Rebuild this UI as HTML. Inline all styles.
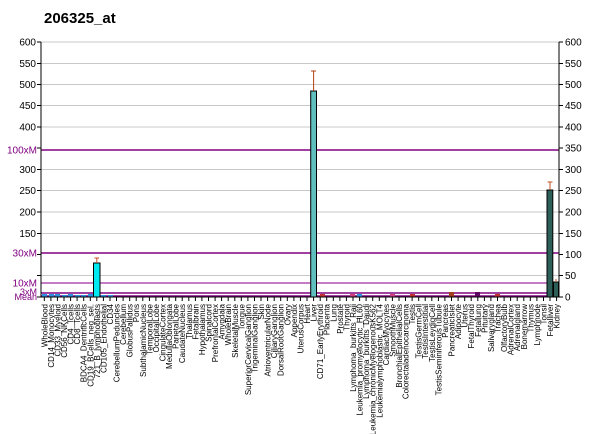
<!DOCTYPE html>
<html><head><meta charset="utf-8"><style>
html,body{margin:0;padding:0;background:#fff;}
svg{display:block;font-family:"Liberation Sans",Arial,sans-serif;}
</style></head><body>
<svg width="600" height="434" viewBox="0 0 600 434" xmlns="http://www.w3.org/2000/svg">
<text x="44" y="23" font-size="15" font-weight="bold" fill="#000">206325_at</text>
<g stroke="#c8c8c8" stroke-width="1">
<line x1="41" x2="559" y1="42" y2="42"/><line x1="41" x2="559" y1="63.5" y2="63.5"/><line x1="41" x2="559" y1="84.5" y2="84.5"/><line x1="41" x2="559" y1="105.5" y2="105.5"/><line x1="41" x2="559" y1="127" y2="127"/><line x1="41" x2="559" y1="169.5" y2="169.5"/><line x1="41" x2="559" y1="190.5" y2="190.5"/><line x1="41" x2="559" y1="212" y2="212"/><line x1="41" x2="559" y1="233.5" y2="233.5"/><line x1="41" x2="559" y1="275.5" y2="275.5"/>
</g>
<g stroke-width="1.5">
<line x1="41" x2="559" y1="150" y2="150" stroke="#800080"/>
<line x1="41" x2="559" y1="253" y2="253" stroke="#800080"/>
<line x1="41" x2="559" y1="283" y2="283" stroke="#b050b0"/>
<line x1="41" x2="559" y1="293" y2="293" stroke="#800080"/>
<line x1="41" x2="559" y1="296" y2="296" stroke="#800080"/>
</g>
<!-- small bars -->
<g fill="#3090e0">
<rect x="42" y="294" width="5" height="3"/><rect x="49" y="294" width="5" height="3"/><rect x="55" y="294" width="5" height="3"/><rect x="62" y="295" width="5" height="2"/><rect x="68" y="294" width="5" height="3"/><rect x="75" y="295" width="5" height="2"/><rect x="81" y="295" width="5" height="2"/><rect x="88" y="294" width="5" height="3"/><rect x="101" y="295" width="5" height="2"/><rect x="108" y="295" width="5" height="2"/>
<rect x="320" y="294" width="5" height="3" fill="#c03030"/><rect x="350" y="294" width="5" height="3" fill="#d04080"/><rect x="357" y="294" width="5" height="3"/><rect x="390" y="294" width="5" height="3" fill="#d04080"/><rect x="410" y="294" width="5" height="3" fill="#c03030"/><rect x="449" y="292" width="5" height="5" fill="#a04020"/><rect x="475" y="292" width="5" height="5" fill="#600060"/><rect x="495" y="294" width="5" height="3" fill="#c03030"/>
</g>
<!-- main bars -->
<rect x="93.5" y="263" width="6.5" height="34" fill="#00e8f0" stroke="#000" stroke-width="1"/>
<line x1="96.8" x2="96.8" y1="263" y2="258" stroke="#c05020"/><line x1="94.5" x2="99" y1="258" y2="258" stroke="#c05020"/>
<rect x="310.7" y="91" width="5.8" height="206" fill="#5fbfbf" stroke="#000" stroke-width="1"/>
<line x1="313.6" x2="313.6" y1="91" y2="71" stroke="#b04010"/><line x1="311" x2="316" y1="71" y2="71" stroke="#b04010"/>
<rect x="547" y="190" width="5.8" height="107" fill="#2e5e58" stroke="#000" stroke-width="1"/>
<line x1="550" x2="550" y1="190" y2="182" stroke="#c05020"/><line x1="547.5" x2="552.5" y1="182" y2="182" stroke="#c05020"/>
<rect x="553.5" y="282" width="5" height="15" fill="#2e5e58" stroke="#000" stroke-width="1"/>
<line x1="556" x2="556" y1="282" y2="279" stroke="#c05020"/>
<!-- axes -->
<g stroke="#000" stroke-width="1">
<line x1="41" x2="41" y1="42" y2="297"/><line x1="559" x2="559" y1="42" y2="297"/><line x1="41" x2="559" y1="297" y2="297"/>
<line x1="37" x2="41" y1="42" y2="42"/><line x1="37" x2="41" y1="63.5" y2="63.5"/><line x1="37" x2="41" y1="84.5" y2="84.5"/><line x1="37" x2="41" y1="105.5" y2="105.5"/><line x1="37" x2="41" y1="127" y2="127"/><line x1="37" x2="41" y1="148" y2="148"/><line x1="37" x2="41" y1="169.5" y2="169.5"/><line x1="37" x2="41" y1="190.5" y2="190.5"/><line x1="37" x2="41" y1="212" y2="212"/><line x1="37" x2="41" y1="233.5" y2="233.5"/><line x1="37" x2="41" y1="254.5" y2="254.5"/><line x1="37" x2="41" y1="275.5" y2="275.5"/><line x1="37" x2="41" y1="297" y2="297"/>
<line x1="559" x2="563" y1="42" y2="42"/><line x1="559" x2="563" y1="63.5" y2="63.5"/><line x1="559" x2="563" y1="84.5" y2="84.5"/><line x1="559" x2="563" y1="105.5" y2="105.5"/><line x1="559" x2="563" y1="127" y2="127"/><line x1="559" x2="563" y1="148" y2="148"/><line x1="559" x2="563" y1="169.5" y2="169.5"/><line x1="559" x2="563" y1="190.5" y2="190.5"/><line x1="559" x2="563" y1="212" y2="212"/><line x1="559" x2="563" y1="233.5" y2="233.5"/><line x1="559" x2="563" y1="254.5" y2="254.5"/><line x1="559" x2="563" y1="275.5" y2="275.5"/><line x1="559" x2="563" y1="297" y2="297"/>
</g>
<g font-size="10" fill="#000" text-anchor="end">
<text x="36" y="45.5">600</text><text x="36" y="67">550</text><text x="36" y="88">500</text><text x="36" y="109">450</text><text x="36" y="130.5">400</text><text x="36" y="173">300</text><text x="36" y="194">250</text><text x="36" y="215.5">200</text><text x="36" y="237">150</text>
</g>
<g font-size="10" fill="#800080" text-anchor="end">
<text x="37" y="153.5">100xM</text><text x="37" y="256.5">30xM</text><text x="37" y="286.5">10xM</text><text x="37" y="295" font-size="9">3xM</text><text x="37" y="300" font-size="9">Mean</text>
</g>
<g font-size="10" fill="#000" text-anchor="start">
<text x="565" y="45.5">600</text><text x="565" y="67">550</text><text x="565" y="88">500</text><text x="565" y="109">450</text><text x="565" y="130.5">400</text><text x="565" y="151.5">350</text><text x="565" y="173">300</text><text x="565" y="194">250</text><text x="565" y="215.5">200</text><text x="565" y="237">150</text><text x="565" y="258">100</text><text x="565" y="279">50</text><text x="565" y="300.5">0</text>
</g>
<g stroke="#000" stroke-width="1">
<line x1="44.3" x2="44.3" y1="297" y2="301"/><line x1="50.9" x2="50.9" y1="297" y2="301"/><line x1="57.4" x2="57.4" y1="297" y2="301"/><line x1="64" x2="64" y1="297" y2="301"/><line x1="70.6" x2="70.6" y1="297" y2="301"/><line x1="77.1" x2="77.1" y1="297" y2="301"/><line x1="83.7" x2="83.7" y1="297" y2="301"/><line x1="90.3" x2="90.3" y1="297" y2="301"/><line x1="96.8" x2="96.8" y1="297" y2="301"/><line x1="103.4" x2="103.4" y1="297" y2="301"/><line x1="110" x2="110" y1="297" y2="301"/><line x1="116.5" x2="116.5" y1="297" y2="301"/><line x1="123.1" x2="123.1" y1="297" y2="301"/><line x1="129.7" x2="129.7" y1="297" y2="301"/><line x1="136.2" x2="136.2" y1="297" y2="301"/><line x1="142.8" x2="142.8" y1="297" y2="301"/><line x1="149.4" x2="149.4" y1="297" y2="301"/><line x1="155.9" x2="155.9" y1="297" y2="301"/><line x1="162.5" x2="162.5" y1="297" y2="301"/><line x1="169.1" x2="169.1" y1="297" y2="301"/><line x1="175.7" x2="175.7" y1="297" y2="301"/><line x1="182.2" x2="182.2" y1="297" y2="301"/><line x1="188.8" x2="188.8" y1="297" y2="301"/><line x1="195.4" x2="195.4" y1="297" y2="301"/><line x1="201.9" x2="201.9" y1="297" y2="301"/><line x1="208.5" x2="208.5" y1="297" y2="301"/><line x1="215.1" x2="215.1" y1="297" y2="301"/><line x1="221.6" x2="221.6" y1="297" y2="301"/><line x1="228.2" x2="228.2" y1="297" y2="301"/><line x1="234.8" x2="234.8" y1="297" y2="301"/><line x1="241.3" x2="241.3" y1="297" y2="301"/><line x1="247.9" x2="247.9" y1="297" y2="301"/><line x1="254.5" x2="254.5" y1="297" y2="301"/><line x1="261" x2="261" y1="297" y2="301"/><line x1="267.6" x2="267.6" y1="297" y2="301"/><line x1="274.2" x2="274.2" y1="297" y2="301"/><line x1="280.7" x2="280.7" y1="297" y2="301"/><line x1="287.3" x2="287.3" y1="297" y2="301"/><line x1="293.9" x2="293.9" y1="297" y2="301"/><line x1="300.4" x2="300.4" y1="297" y2="301"/><line x1="307" x2="307" y1="297" y2="301"/><line x1="313.6" x2="313.6" y1="297" y2="301"/><line x1="320.2" x2="320.2" y1="297" y2="301"/><line x1="326.7" x2="326.7" y1="297" y2="301"/><line x1="333.3" x2="333.3" y1="297" y2="301"/><line x1="339.9" x2="339.9" y1="297" y2="301"/><line x1="346.4" x2="346.4" y1="297" y2="301"/><line x1="353" x2="353" y1="297" y2="301"/><line x1="359.6" x2="359.6" y1="297" y2="301"/><line x1="366.1" x2="366.1" y1="297" y2="301"/><line x1="372.7" x2="372.7" y1="297" y2="301"/><line x1="379.3" x2="379.3" y1="297" y2="301"/><line x1="385.8" x2="385.8" y1="297" y2="301"/><line x1="392.4" x2="392.4" y1="297" y2="301"/><line x1="399" x2="399" y1="297" y2="301"/><line x1="405.5" x2="405.5" y1="297" y2="301"/><line x1="412.1" x2="412.1" y1="297" y2="301"/><line x1="418.7" x2="418.7" y1="297" y2="301"/><line x1="425.2" x2="425.2" y1="297" y2="301"/><line x1="431.8" x2="431.8" y1="297" y2="301"/><line x1="438.4" x2="438.4" y1="297" y2="301"/><line x1="444.9" x2="444.9" y1="297" y2="301"/><line x1="451.5" x2="451.5" y1="297" y2="301"/><line x1="458.1" x2="458.1" y1="297" y2="301"/><line x1="464.7" x2="464.7" y1="297" y2="301"/><line x1="471.2" x2="471.2" y1="297" y2="301"/><line x1="477.8" x2="477.8" y1="297" y2="301"/><line x1="484.4" x2="484.4" y1="297" y2="301"/><line x1="490.9" x2="490.9" y1="297" y2="301"/><line x1="497.5" x2="497.5" y1="297" y2="301"/><line x1="504.1" x2="504.1" y1="297" y2="301"/><line x1="510.6" x2="510.6" y1="297" y2="301"/><line x1="517.2" x2="517.2" y1="297" y2="301"/><line x1="523.8" x2="523.8" y1="297" y2="301"/><line x1="530.3" x2="530.3" y1="297" y2="301"/><line x1="536.9" x2="536.9" y1="297" y2="301"/><line x1="543.5" x2="543.5" y1="297" y2="301"/><line x1="550" x2="550" y1="297" y2="301"/><line x1="556.6" x2="556.6" y1="297" y2="301"/>
</g>
<g font-size="8" fill="#000" text-anchor="end">
<text transform="translate(47.3,304) rotate(-90)">WholeBlood</text>
<text transform="translate(53.9,304) rotate(-90)">CD14_Monocytes</text>
<text transform="translate(60.4,304) rotate(-90)">CD33_Myeloid</text>
<text transform="translate(67,304) rotate(-90)">CD56_NKCells</text>
<text transform="translate(73.6,304) rotate(-90)">CD4_Tcells</text>
<text transform="translate(80.1,304) rotate(-90)">CD8_Tcells</text>
<text transform="translate(86.7,304) rotate(-90)">BDCA4_DentriticCells</text>
<text transform="translate(93.3,304) rotate(-90)">CD19_BCells_neg_sel.</text>
<text transform="translate(99.8,304) rotate(-90)">721_B_lymphoblasts</text>
<text transform="translate(106.4,304) rotate(-90)">CD105_Endothelial</text>
<text transform="translate(113,304) rotate(-90)">CD34</text>
<text transform="translate(119.5,304) rotate(-90)">CerebellumPeduncles</text>
<text transform="translate(126.1,304) rotate(-90)">Cerebellum</text>
<text transform="translate(132.7,304) rotate(-90)">GlobusPallidus</text>
<text transform="translate(139.2,304) rotate(-90)">Pons</text>
<text transform="translate(145.8,304) rotate(-90)">SubthalamicNucleus</text>
<text transform="translate(152.4,304) rotate(-90)">TemporalLobe</text>
<text transform="translate(158.9,304) rotate(-90)">OccipitalLobe</text>
<text transform="translate(165.5,304) rotate(-90)">CingulateCortex</text>
<text transform="translate(172.1,304) rotate(-90)">MedullaOblongata</text>
<text transform="translate(178.7,304) rotate(-90)">ParietalLobe</text>
<text transform="translate(185.2,304) rotate(-90)">CaudateNucleus</text>
<text transform="translate(191.8,304) rotate(-90)">Thalamus</text>
<text transform="translate(198.4,304) rotate(-90)">Fetalbrain</text>
<text transform="translate(204.9,304) rotate(-90)">Hypothalamus</text>
<text transform="translate(211.5,304) rotate(-90)">Spinalcord</text>
<text transform="translate(218.1,304) rotate(-90)">PrefrontalCortex</text>
<text transform="translate(224.6,304) rotate(-90)">Amygdala</text>
<text transform="translate(231.2,304) rotate(-90)">WholeBrain</text>
<text transform="translate(237.8,304) rotate(-90)">SkeletalMuscle</text>
<text transform="translate(244.3,304) rotate(-90)">Tongue</text>
<text transform="translate(250.9,304) rotate(-90)">SuperiorCervicalGanglion</text>
<text transform="translate(257.5,304) rotate(-90)">TrigeminalGanglion</text>
<text transform="translate(264,304) rotate(-90)">Skin</text>
<text transform="translate(270.6,304) rotate(-90)">AtrioventricularNode</text>
<text transform="translate(277.2,304) rotate(-90)">CiliaryGanglion</text>
<text transform="translate(283.7,304) rotate(-90)">DorsalRootGanglion</text>
<text transform="translate(290.3,304) rotate(-90)">Ovary</text>
<text transform="translate(296.9,304) rotate(-90)">Appendix</text>
<text transform="translate(303.4,304) rotate(-90)">UterusCorpus</text>
<text transform="translate(310,304) rotate(-90)">Heart</text>
<text transform="translate(316.6,304) rotate(-90)">Liver</text>
<text transform="translate(323.2,304) rotate(-90)">CD71_EarlyErythroid</text>
<text transform="translate(329.7,304) rotate(-90)">Placenta</text>
<text transform="translate(336.3,304) rotate(-90)">Lung</text>
<text transform="translate(342.9,304) rotate(-90)">Prostate</text>
<text transform="translate(349.4,304) rotate(-90)">Thyroid</text>
<text transform="translate(356,304) rotate(-90)">Lymphoma_burkitts_Raji</text>
<text transform="translate(362.6,304) rotate(-90)">Leukemia_promyelocytic_HL60</text>
<text transform="translate(369.1,304) rotate(-90)">Lymphoma_burkitts_Daudi</text>
<text transform="translate(375.7,304) rotate(-90)">Leukemia_chronicMyelogenousK562</text>
<text transform="translate(382.3,304) rotate(-90)">Leukemialymphoblastic_MOLT4</text>
<text transform="translate(388.8,304) rotate(-90)">CardiacMyocytes</text>
<text transform="translate(395.4,304) rotate(-90)">SmoothMuscle</text>
<text transform="translate(402,304) rotate(-90)">BronchialEpithelialCells</text>
<text transform="translate(408.5,304) rotate(-90)">Colorectaladenocarcinoma</text>
<text transform="translate(415.1,304) rotate(-90)">Testis</text>
<text transform="translate(421.7,304) rotate(-90)">TestisGermCell</text>
<text transform="translate(428.2,304) rotate(-90)">TestisInterstitial</text>
<text transform="translate(434.8,304) rotate(-90)">TestisLeydigCell</text>
<text transform="translate(441.4,304) rotate(-90)">TestisSeminiferousTubule</text>
<text transform="translate(447.9,304) rotate(-90)">Pancreas</text>
<text transform="translate(454.5,304) rotate(-90)">PancreaticIslet</text>
<text transform="translate(461.1,304) rotate(-90)">Adipocyte</text>
<text transform="translate(467.7,304) rotate(-90)">Uterus</text>
<text transform="translate(474.2,304) rotate(-90)">FetalThyroid</text>
<text transform="translate(480.8,304) rotate(-90)">Fetallung</text>
<text transform="translate(487.4,304) rotate(-90)">Pituitary</text>
<text transform="translate(493.9,304) rotate(-90)">Salivarygland</text>
<text transform="translate(500.5,304) rotate(-90)">Trachea</text>
<text transform="translate(507.1,304) rotate(-90)">OlfactoryBulb</text>
<text transform="translate(513.6,304) rotate(-90)">AdrenalCortex</text>
<text transform="translate(520.2,304) rotate(-90)">Adrenalgland</text>
<text transform="translate(526.8,304) rotate(-90)">Bonemarrow</text>
<text transform="translate(533.3,304) rotate(-90)">Thymus</text>
<text transform="translate(539.9,304) rotate(-90)">Lymphnode</text>
<text transform="translate(546.5,304) rotate(-90)">Tonsil</text>
<text transform="translate(553,304) rotate(-90)">Fetalliver</text>
<text transform="translate(559.6,304) rotate(-90)">Kidney</text>
</g>
</svg>
</body></html>
